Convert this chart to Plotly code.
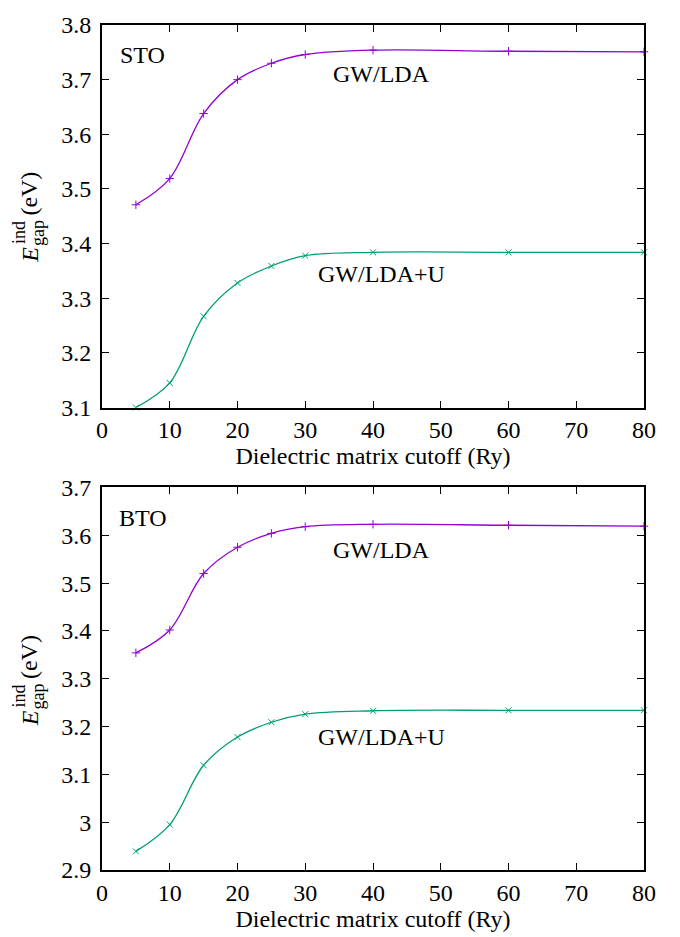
import plotly.graph_objects as go
from plotly.subplots import make_subplots

# Dielectric matrix cutoff (Ry)
cutoff = [5, 10, 15, 20, 25, 30, 40, 60, 80]

# Indirect gap (eV), SrTiO3
sto_lda = [3.471, 3.519, 3.638, 3.700, 3.730, 3.746, 3.754, 3.752, 3.751]
sto_ldau = [3.100, 3.145, 3.267, 3.328, 3.359, 3.378, 3.384, 3.384, 3.384]

# Indirect gap (eV), BaTiO3
bto_lda = [3.354, 3.402, 3.520, 3.575, 3.604, 3.618, 3.623, 3.621, 3.619]
bto_ldau = [2.939, 2.995, 3.119, 3.178, 3.209, 3.226, 3.233, 3.234, 3.234]

x_ticks = [0, 10, 20, 30, 40, 50, 60, 70, 80]
sto_ticks = [3.1, 3.2, 3.3, 3.4, 3.5, 3.6, 3.7, 3.8]
sto_ticktext = ["3.1", "3.2", "3.3", "3.4", "3.5", "3.6", "3.7", "3.8"]
bto_ticks = [2.9, 3.0, 3.1, 3.2, 3.3, 3.4, 3.5, 3.6, 3.7]
bto_ticktext = ["2.9", "3", "3.1", "3.2", "3.3", "3.4", "3.5", "3.6", "3.7"]

PURPLE = "#9400d3"
GREEN = "#009e73"
FONT = "Liberation Serif"
FS = 24

W, H = 680, 937
ML, MR, MT, MB = 102, 36, 20, 60

fig = make_subplots(rows=2, cols=1, vertical_spacing=0.0946)


def add_series(row, y, color, symbol):
    fig.add_trace(go.Scatter(
        x=cutoff, y=y, mode="lines",
        line=dict(color=color, width=1.3, shape="spline", smoothing=1.0),
        hoverinfo="skip", showlegend=False), row=row, col=1)
    fig.add_trace(go.Scatter(
        x=cutoff, y=y, mode="markers", cliponaxis=False,
        marker=dict(symbol=symbol, size=6, color=color,
                    line=dict(color=color, width=1)),
        showlegend=False), row=row, col=1)


add_series(1, sto_lda, PURPLE, "cross-thin")
add_series(1, sto_ldau, GREEN, "x-thin")
add_series(2, bto_lda, PURPLE, "cross-thin")
add_series(2, bto_ldau, GREEN, "x-thin")

axis_common = dict(
    showline=True, linecolor="black", linewidth=2, mirror="ticks",
    ticks="inside", ticklen=7, tickwidth=1, tickcolor="black",
    showgrid=False, zeroline=False,
    tickfont=dict(family=FONT, size=FS, color="black"),
)

for r in (1, 2):
    fig.update_xaxes(range=[0, 80], tickvals=x_ticks, ticktext=[str(v) for v in x_ticks],
                     title=dict(text="Dielectric matrix cutoff (Ry)", standoff=2,
                                font=dict(family=FONT, size=FS, color="black")),
                     row=r, col=1, **axis_common)

fig.update_yaxes(range=[3.1, 3.8], tickvals=sto_ticks, ticktext=sto_ticktext,
                 ticklabelstandoff=4, row=1, col=1, **axis_common)
fig.update_yaxes(range=[2.9, 3.7], tickvals=bto_ticks, ticktext=bto_ticktext,
                 ticklabelstandoff=4, row=2, col=1, **axis_common)

annotations = []


def text_at(x, y, text, xref, yref, size=FS, xanchor="center"):
    annotations.append(dict(x=x, y=y, xref=xref, yref=yref, text=text, showarrow=False,
                            xanchor=xanchor, yanchor="middle",
                            font=dict(family=FONT, size=size, color="black")))


# in-plot labels (data coordinates)
text_at(2.3, 3.746, "STO", "x", "y", xanchor="left")
text_at(41.2, 3.710, "GW/LDA", "x", "y")
text_at(41.2, 3.344, "GW/LDA+U", "x", "y")
text_at(2.2, 3.637, "BTO", "x2", "y2", xanchor="left")
text_at(41.2, 3.569, "GW/LDA", "x2", "y2")
text_at(41.2, 3.179, "GW/LDA+U", "x2", "y2")


def px_x(px):
    return (px - ML) / (W - ML - MR)


def px_y(py):
    return (H - MB - py) / (H - MT - MB)


def ylabel(y_e, y_idx, y_ev):
    # E with stacked super/subscript, rotated to read upward
    for px, py, txt, sz in [(30, y_e, "<i>E</i>", FS),
                            (19, y_idx, "ind", 18),
                            (38, y_idx, "gap", 18),
                            (29, y_ev, "(eV)", FS)]:
        annotations.append(dict(x=px_x(px), y=px_y(py), xref="paper", yref="paper",
                                text=txt, showarrow=False, textangle=-90,
                                xanchor="center", yanchor="middle",
                                font=dict(family=FONT, size=sz, color="black")))


ylabel(253, 231, 191)
ylabel(723, 701, 661)

fig.update_layout(
    width=W, height=H,
    margin=dict(l=ML, r=MR, t=MT, b=MB),
    paper_bgcolor="white", plot_bgcolor="white",
    annotations=annotations,
    showlegend=False,
)

fig.write_html("out.html")
